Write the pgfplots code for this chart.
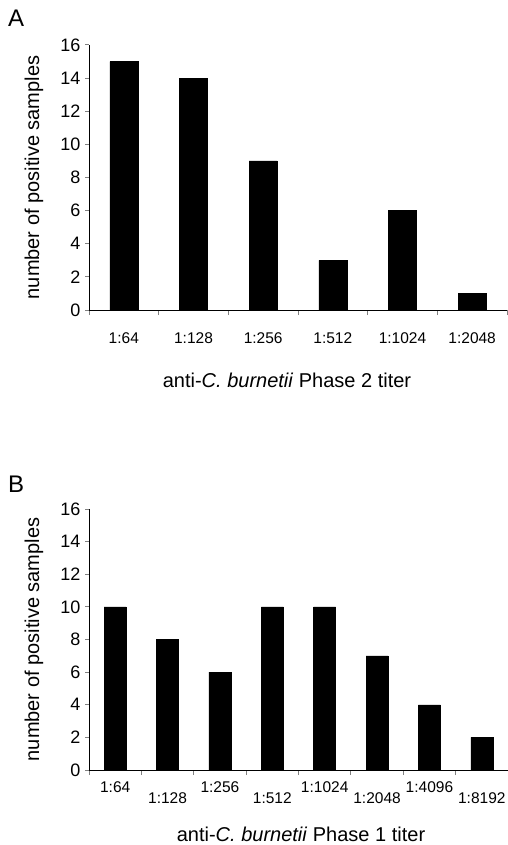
\documentclass[border=0pt]{standalone}
\usepackage{fontspec}
\setmainfont{Liberation Sans}
\usepackage{pgfplots}
\pgfplotsset{compat=1.18}

\pgfplotsset{
  titerbars/.style={
    scale only axis,
    axis lines=left,
    axis line style={-, line width=1pt},
    enlargelimits=false,
    ymin=0, ymax=16,
    ytick={0,2,...,16},
    tick align=outside,
    major tick length=4pt,
    minor tick length=5pt,
    tick style={line width=1pt},
    major x tick style={draw=none},
    /pgf/number format/assume math mode=true,
    yticklabel style={font=\fontsize{18}{20}\selectfont, xshift=-1pt},
    xticklabel style={font=\fontsize{15.5}{17}\selectfont, anchor=base},
    label style={font=\fontsize{20}{23}\selectfont},
  },
}

\begin{document}
\begin{tikzpicture}
\path[use as bounding box] (0,0) rectangle (508pt,-845pt);

\node[anchor=base west, font=\fontsize{24}{26}\selectfont, inner sep=0pt] at (8pt,-27pt) {A};
\node[anchor=base west, font=\fontsize{24}{26}\selectfont, inner sep=0pt] at (8pt,-492pt) {B};

% panel A: phase 2 titer
\begin{axis}[
  titerbars,
  at={(89pt,-310pt)}, anchor=south west,
  width=418pt, height=265pt,
  xmin=-0.5, xmax=5.5,
  xtick={0,...,5},
  xticklabels={1:64,1:128,1:256,1:512,1:1024,1:2048},
  xticklabel style={yshift=-29pt},
  minor xtick={-0.5,0.5,...,5.5},
  ybar, bar width=0.4,
  xlabel={anti-\textit{C. burnetii} Phase 2 titer},
  xlabel style={at={(axis description cs:0.4737,0)}, anchor=base, yshift=-77pt},
  ylabel={number of positive samples},
  ylabel style={at={(axis description cs:-0.1196,0.5)}, anchor=base},
]
\addplot[fill=black, draw=black] coordinates {
  (0,15) (1,14) (2,9) (3,3) (4,6) (5,1)
};
\end{axis}

% panel B: phase 1 titer
\begin{axis}[
  titerbars,
  at={(89pt,-770pt)}, anchor=south west,
  width=419pt, height=261pt,
  xmin=-0.5, xmax=7.5,
  xtick={0,2,4,6},
  xticklabels={1:64,1:256,1:1024,1:4096},
  xticklabel style={yshift=-18pt},
  extra x ticks={1,3,5,7},
  extra x tick labels={1:128,1:512,1:2048,1:8192},
  extra x tick style={xticklabel style={yshift=-11pt}},
  minor xtick={-0.5,0.5,...,7.5},
  ybar, bar width=0.42,
  xlabel={anti-\textit{C. burnetii} Phase 1 titer},
  xlabel style={at={(axis description cs:0.506,0)}, anchor=base, yshift=-71pt},
  ylabel={number of positive samples},
  ylabel style={at={(axis description cs:-0.1193,0.5)}, anchor=base},
]
\addplot[fill=black, draw=black] coordinates {
  (0,10) (1,8) (2,6) (3,10) (4,10) (5,7) (6,4) (7,2)
};
\end{axis}
\end{tikzpicture}
\end{document}
